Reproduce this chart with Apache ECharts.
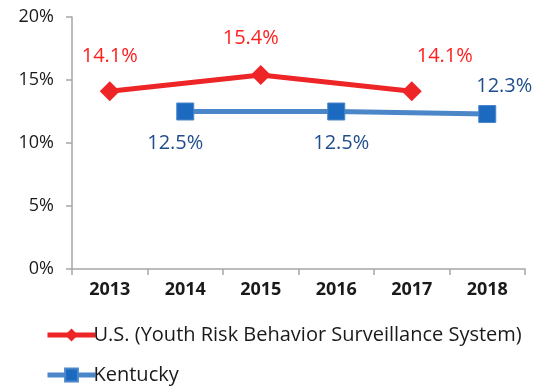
<!DOCTYPE html>
<html>
<head>
<meta charset="utf-8">
<style>
  html, body { margin: 0; padding: 0; background: #ffffff; }
  #chart { width: 539px; height: 386px; }
</style>
<script src="https://cdn.jsdelivr.net/npm/echarts@6/dist/echarts.min.js"></script>
</head>
<body>
<div id="chart"></div>
<script>
// Survey years on the category axis
const years = ['2013', '2014', '2015', '2016', '2017', '2018'];

// Percent values per year (null where no survey that year)
const usValues = [14.1, null, 15.4, null, 14.1, null];
const kentuckyValues = [null, 12.5, null, 12.5, null, 12.3];

// Series names shown in the legend
const usName = 'U.S. (Youth Risk Behavior Surveillance System)';
const kyName = 'Kentucky';

// Per-point label placement: [position, x offset, y offset]
const usLabelPlace = [['top', 0, -10], null, ['top', -10, -12], null, ['top', 33, -10], null];
const kyLabelPlace = [null, ['bottom', -10, 8], null, ['bottom', 5, 8], null, ['top', 17, -4]];

function buildData(values, places) {
  return values.map((v, i) => {
    if (v === null) return null;
    const p = places[i];
    return { value: v, label: { position: p[0], offset: [p[1], p[2]] } };
  });
}

const fontFamily = '"Open Sans", "Noto Sans", sans-serif';

// One legend row per series, stacked under the plot
function legendRow(name, top) {
  return {
    left: 40,
    top,
    itemWidth: 48,
    itemHeight: 16,
    lineStyle: { width: 5 },
    textStyle: { color: '#1a1a1a', fontFamily, fontSize: 20, padding: [0, 0, 0, -7] },
    data: [name]
  };
}

const chart = echarts.init(document.getElementById('chart'), null, { renderer: 'canvas' });

chart.setOption({
  animation: false,
  backgroundColor: '#ffffff',
  grid: { left: 72, right: 14, top: 17, bottom: 117, containLabel: false },
  xAxis: {
    type: 'category',
    data: years,
    boundaryGap: true,
    axisLine: { lineStyle: { color: '#a6a6a6', width: 1.5 } },
    axisTick: { show: true, length: 6, lineStyle: { color: '#a6a6a6', width: 1.5 } },
    axisLabel: { color: '#1a1a1a', fontFamily, fontSize: 18, fontWeight: 'bold', margin: 12 },
    splitLine: { show: false }
  },
  yAxis: {
    type: 'value',
    min: 0,
    max: 20,
    interval: 5,
    axisLine: { show: true, lineStyle: { color: '#a6a6a6', width: 1.5 } },
    axisTick: { show: true, length: 6, lineStyle: { color: '#a6a6a6', width: 1.5 } },
    axisLabel: { color: '#1a1a1a', fontFamily, fontSize: 18, margin: 18, formatter: '{value}%' },
    splitLine: { show: false }
  },
  legend: [legendRow(usName, 320), legendRow(kyName, 360)],
  series: [
    {
      name: usName,
      type: 'line',
      data: buildData(usValues, usLabelPlace),
      connectNulls: true,
      symbol: 'diamond',
      symbolSize: 20,
      lineStyle: { color: '#ee2527', width: 5 },
      itemStyle: { color: '#ee2527' },
      label: {
        show: true,
        color: '#ff1f1f',
        fontFamily,
        fontSize: 20,
        formatter: p => p.value.toFixed(1) + '%'
      }
    },
    {
      name: kyName,
      type: 'line',
      data: buildData(kentuckyValues, kyLabelPlace),
      connectNulls: true,
      symbol: 'rect',
      symbolSize: 17,
      lineStyle: { color: '#4a86c8', width: 5 },
      itemStyle: { color: '#1c6ac0', borderColor: '#4a86c8', borderWidth: 1 },
      label: {
        show: true,
        color: '#1f4e8c',
        fontFamily,
        fontSize: 20,
        formatter: p => p.value.toFixed(1) + '%'
      }
    }
  ]
});
</script>
</body>
</html>
